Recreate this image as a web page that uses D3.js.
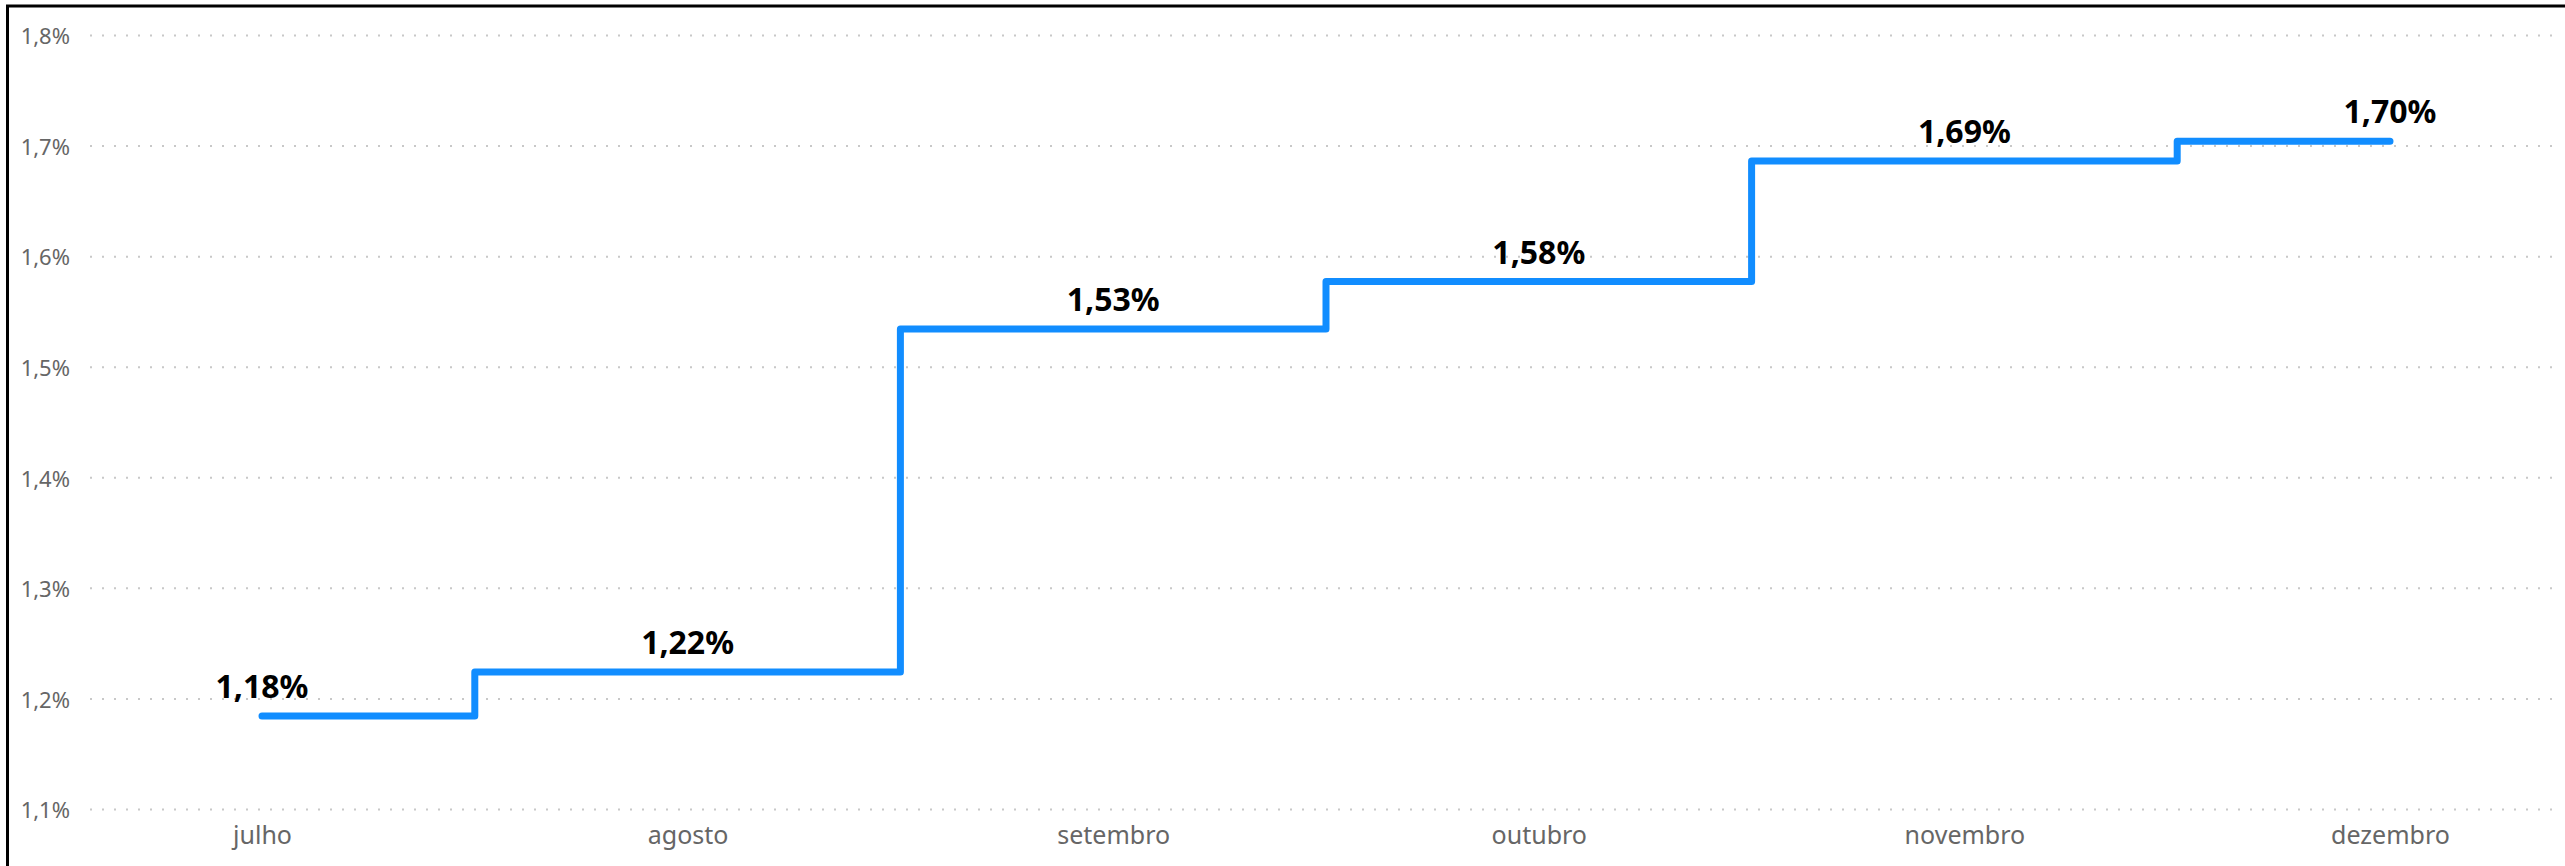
<!DOCTYPE html>
<html>
<head>
<meta charset="utf-8">
<script src="https://cdn.jsdelivr.net/npm/d3@7/dist/d3.min.js"></script>
<style>
  html, body { margin: 0; padding: 0; background: #ffffff; }
  svg { display: block; }
</style>
</head>
<body>
<svg id="chart" width="2565" height="866"></svg>
<script>
// ---- data ----
const categories = ["julho", "agosto", "setembro", "outubro", "novembro", "dezembro"];
const values = [1.184, 1.224, 1.534, 1.577, 1.686, 1.704];
const yTicks = [1.1, 1.2, 1.3, 1.4, 1.5, 1.6, 1.7, 1.8];

// ---- layout ----
const W = 2565, H = 866;
const gridLeft = 90, gridRight = 2555;
const yTop = 35, yBottom = 809;

const locale = d3.formatLocale({ decimal: ",", thousands: ".", grouping: [3], currency: ["R$", ""] });
const fmtTick = locale.format(".1f");
const fmtLabel = locale.format(".2f");

const svg = d3.select("#chart");

const x = d3.scalePoint().domain(categories).range([262, 2390]);
const y = d3.scaleLinear().domain([1.1, 1.8]).range([yBottom, yTop]);

// frame (left + top visible)
svg.append("path")
  .attr("d", `M7.5,${H + 10} L7.5,6 L${W + 10},6`)
  .attr("fill", "none")
  .attr("stroke", "#000")
  .attr("stroke-width", 3);

// gridlines
const grid = svg.append("g")
  .attr("transform", `translate(${gridLeft},0)`)
  .call(d3.axisLeft(y).tickValues(yTicks).tickSize(-(gridRight - gridLeft)).tickFormat(""));
grid.select(".domain").remove();
grid.selectAll(".tick line")
  .attr("stroke", "#c8c8c8")
  .attr("stroke-width", 2)
  .attr("stroke-dasharray", "2 10");

// y tick labels
const yAxis = svg.append("g")
  .attr("transform", `translate(70,0)`)
  .call(d3.axisLeft(y).tickValues(yTicks).tickSize(0).tickPadding(0).tickFormat(d => fmtTick(d) + "%"));
yAxis.select(".domain").remove();
yAxis.selectAll("text")
  .attr("font-family", "'Noto Sans', 'Open Sans', sans-serif")
  .attr("font-size", 22)
  .attr("fill", "#666666")
  .attr("dy", "0.4em");

// x axis labels
const xAxis = svg.append("g")
  .attr("transform", `translate(0,${yBottom})`)
  .call(d3.axisBottom(x).tickSize(0).tickPadding(0));
xAxis.select(".domain").remove();
xAxis.selectAll("text")
  .attr("font-family", "'Noto Sans', 'Open Sans', sans-serif")
  .attr("font-size", 25)
  .attr("fill", "#666666")
  .attr("dy", null)
  .attr("y", 35);

// step line
const data = categories.map((c, i) => ({ c, v: values[i] }));
const line = d3.line()
  .x(d => x(d.c))
  .y(d => y(d.v))
  .curve(d3.curveStep);

svg.append("path")
  .datum(data)
  .attr("d", line)
  .attr("fill", "none")
  .attr("stroke", "#118DFF")
  .attr("stroke-width", 7)
  .attr("stroke-linecap", "round")
  .attr("stroke-linejoin", "round");

// data labels
svg.append("g")
  .selectAll("text")
  .data(data)
  .join("text")
  .attr("x", d => x(d.c))
  .attr("y", d => y(d.v) - 18)
  .attr("text-anchor", "middle")
  .attr("font-family", "'Noto Sans', 'Open Sans', sans-serif")
  .attr("font-weight", "bold")
  .attr("font-size", 32)
  .attr("fill", "#000000")
  .text(d => fmtLabel(d.v) + "%");
</script>
</body>
</html>
